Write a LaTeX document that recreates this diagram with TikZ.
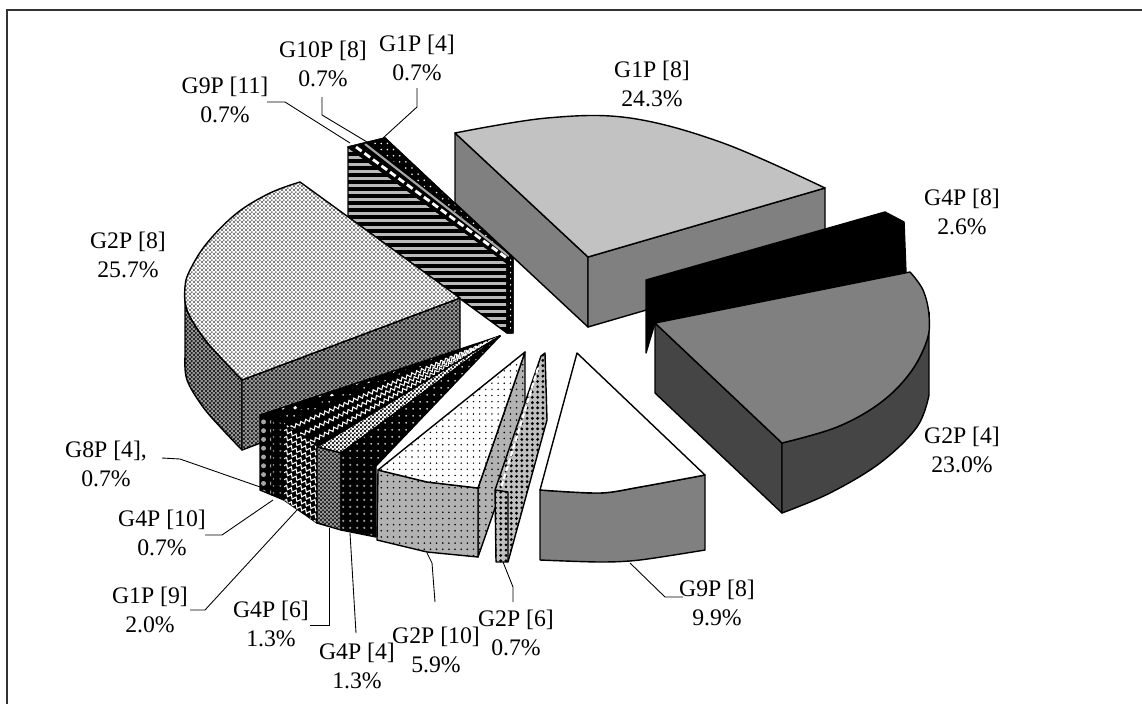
\documentclass[tikz,border=0pt]{standalone}
\usepackage{fontspec}
\setmainfont{Liberation Serif}
\usetikzlibrary{patterns,patterns.meta,decorations.pathmorphing,calc}
\definecolor{lg}{gray}{0.76}
\definecolor{mg}{gray}{0.50}
\definecolor{dg}{gray}{0.27}
\pgfdeclarepatternformonly{finecheck}{\pgfpointorigin}{\pgfpoint{2.2pt}{2.2pt}}{\pgfpoint{2.2pt}{2.2pt}}{%
  \pgfpathrectangle{\pgfpointorigin}{\pgfpoint{1.1pt}{1.1pt}}%
  \pgfpathrectangle{\pgfpoint{1.1pt}{1.1pt}}{\pgfpoint{1.1pt}{1.1pt}}%
  \pgfusepath{fill}}
\begin{document}
\begin{tikzpicture}[x=0.02cm,y=-0.02cm,
  edge/.style={draw=black, line width=0.8pt, line join=round},
  lbl/.style={align=center, font=\fontsize{13.5}{16.5}\selectfont, inner sep=0pt},
  lead/.style={draw=black, line width=0.5pt},
  zz/.style={draw=white, line width=0.6pt, decorate, decoration={zigzag, segment length=3pt, amplitude=1pt}},
]
\useasboundingbox (0,0) rectangle (1142,703);
% frame
\draw[line width=1.3pt, black!80] (7,720) -- (7,10) -- (1160,10);

% ---------- top thin slices (G9P[11], G10P[8], G1P[4]) ----------
\begin{scope}
  \clip (348,147) -- (507,263) -- (507,333) -- (348,217) -- cycle;
  \fill[gray!55] (340,130) rectangle (520,340);
  \foreach \yy in {131,138,...,340} \fill[black] (340,\yy) rectangle (520,\yy+4);
\end{scope}
\draw[edge] (348,147) -- (507,263) -- (507,333) -- (348,217) -- cycle;
\draw[edge, fill=black] (348,147) -- (385,138) -- (513,258) -- (513,333) -- (507,333) -- (507,263) -- cycle;
\path[pattern={Dots[distance=3.5pt,radius=0.5pt]}, pattern color=white] (370,142) -- (385,138) -- (513,258) -- (513,333) -- (510,333) -- (510,257) -- cycle;
\draw[white, line width=1.6pt, dash pattern=on 4pt off 2pt] (356,147) -- (508,259);
\draw[gray!70, line width=1.2pt] (365,144) -- (509,256);
\draw[edge] (348,147) -- (385,138) -- (513,258) -- (513,333) -- (507,333);

% ---------- G1P[8] ----------
\draw[edge, fill=mg] (455,133) -- (588,257) -- (588,327) -- (455,203) -- cycle;
\draw[edge, fill=mg] (588,257) -- (825,188) -- (825,258) -- (588,327) -- cycle;
\draw[edge, fill=lg] plot[smooth, tension=0.6] coordinates {(455,133) (547,118) (630,118) (723,143) (825,188)} -- (588,257) -- cycle;

% ---------- G4P[8] ----------
\draw[edge, fill=black] (646,280) -- (885,212) -- (904,222) -- (906,273) -- (655,323) -- (646,353) -- cycle;

% ---------- G2P[4] ----------
\draw[edge, fill=dg] (655,323) -- (782,443) -- (782,513) -- (655,393) -- cycle;
\draw[edge, fill=dg] plot[smooth, tension=0.6] coordinates {(929,312) (927,340) (910,373) (880,403) (837,427) (782,443)} -- (782,513)
  -- plot[smooth, tension=0.6] coordinates {(782,513) (830,493) (880,463) (917,427) (929,395)} -- cycle;
\draw[edge, fill=mg] (655,323) -- plot[smooth, tension=0.6] coordinates {(910,272) (923,290) (929,315) (927,340) (910,373) (880,403) (837,427) (782,443)} -- cycle;

% ---------- G9P[8] ----------
\draw[edge, fill=mg] plot[smooth, tension=0.5] coordinates {(540,490) (600,493) (640,487) (705,475)} -- (705,550)
  -- plot[smooth, tension=0.5] coordinates {(705,550) (640,560) (600,562) (540,560)} -- cycle;
\draw[edge, fill=white] (577,353) -- plot[smooth, tension=0.5] coordinates {(540,490) (600,493) (640,487) (705,475)} -- cycle;

% ---------- G2P[8] ----------
\draw[edge, preaction={fill=black!40}, pattern=finecheck, pattern color=black!85]
  plot[smooth, tension=0.6] coordinates {(185,287) (187,310) (203,337) (223,360) (242,380)} -- (242,450)
  -- plot[smooth, tension=0.6] coordinates {(242,450) (223,430) (203,407) (187,380) (185,357)} -- cycle;
\draw[edge, preaction={fill=black!40}, pattern=finecheck, pattern color=black!85]
  (242,380) -- (460,298) -- (460,368) -- (242,450) -- cycle;
\draw[edge, preaction={fill=white}, pattern=finecheck, pattern color=black!50]
  plot[smooth, tension=0.6] coordinates {(300,182) (270,193) (237,213) (207,243) (190,270) (185,287) (187,310) (203,337) (223,360) (242,380)} -- (460,298) -- cycle;

% ---------- small slices group ----------
\coordinate (A) at (500,336);
\coordinate (F0) at (260,415); \coordinate (B0) at (260,490);
\coordinate (F1) at (272,419); \coordinate (B1) at (272,495);
\coordinate (F2) at (284,423); \coordinate (B2) at (284,500);
\coordinate (F3) at (317,447); \coordinate (B3) at (317,523);
\coordinate (F4) at (341,453); \coordinate (B4) at (341,530);
\coordinate (F5) at (376,466); \coordinate (B5) at (376,537);
% G8P[4]
\draw[edge, preaction={fill=black}, pattern={Dots[distance=7pt,radius=1.1pt]}, pattern color=white] (F0) -- (F1) -- (A) -- cycle;
\draw[edge, preaction={fill=black}, pattern={Dots[distance=5pt,radius=1.4pt]}, pattern color=gray!70] (F0) -- (F1) -- (B1) -- (B0) -- cycle;
% G4P[10]
\draw[edge, preaction={fill=black}, pattern={Dots[distance=4pt,radius=0.6pt]}, pattern color=white] (F1) -- (F2) -- (A) -- cycle;
\draw[edge, preaction={fill=black}, pattern={Dots[distance=4pt,radius=0.7pt]}, pattern color=gray] (F1) -- (F2) -- (B2) -- (B1) -- cycle;
% G1P[9] zigzag
\draw[edge, fill=black] (F2) -- (F3) -- (A) -- cycle;
\begin{scope}
  \clip (F2) -- (F3) -- (A) -- cycle;
  \foreach \t in {0.2,0.5,0.8} \draw[zz] ($(F2)!\t!(F3)$) -- (A);
\end{scope}
\draw[edge, fill=black] (F2) -- (F3) -- (B3) -- (B2) -- cycle;
\begin{scope}
  \clip (F2) -- (F3) -- (B3) -- (B2) -- cycle;
  \foreach \d in {-20,-13,...,100} \draw[zz] (280,420+\d) -- (320,440+\d);
\end{scope}
% G4P[6]
\draw[edge, preaction={fill=white}, pattern=finecheck, pattern color=black!85] (F3) -- (F4) -- (A) -- cycle;
\draw[edge, preaction={fill=black!40}, pattern=finecheck, pattern color=black!85] (F3) -- (F4) -- (B4) -- (B3) -- cycle;
% G4P[4]
\draw[edge, preaction={fill=black}, pattern={Dots[distance=4pt,radius=0.6pt]}, pattern color=white] (F4) -- (F5) -- (A) -- cycle;
\draw[edge, preaction={fill=black}, pattern={Dots[distance=4pt,radius=0.8pt]}, pattern color=gray!80] (F4) -- (F5) -- (B5) -- (B4) -- cycle;

% ---------- G2P[10] ----------
\draw[edge, preaction={fill=gray!60}, pattern={Dots[distance=3.5pt,radius=0.5pt]}, pattern color=black] (525,352) -- (478,488) -- (478,557) -- (525,422) -- cycle;
\draw[edge, preaction={fill=gray!60}, pattern={Dots[distance=3.5pt,radius=0.5pt]}, pattern color=black]
  (378,470) -- (427,482) -- (478,488) -- (478,557) -- (427,552) -- (377,540) -- cycle;
\draw[edge, preaction={fill=white}, pattern={Dots[distance=3.5pt,radius=0.45pt]}, pattern color=black]
  (525,352) -- (378,470) -- (427,482) -- (478,488) -- cycle;

% ---------- G2P[6] ----------
\draw[edge, preaction={fill=gray!50}, pattern={Dots[distance=3pt,radius=0.9pt]}, pattern color=black] (541,356) -- (545,353) -- (547,420) -- (508,562) -- (496,562) -- (495,490) -- cycle;
\draw[white, line width=1.2pt, dash pattern=on 3pt off 1.5pt] (538,368) -- (501,488);
\draw[edge] (495,490) -- (508,492) -- (508,562);

% ---------- labels ----------
\node[lbl] (l1) at (652,84) {G1P [8]\\24.3\%};
\node[lbl] (l2) at (962,212) {G4P [8]\\2.6\%};
\node[lbl] (l3) at (962,450) {G2P [4]\\23.0\%};
\node[lbl] (l4) at (717,603) {G9P [8]\\9.9\%};
\node[lbl] (l5) at (516,633) {G2P [6]\\0.7\%};
\node[lbl] (l6) at (436,650) {G2P [10]\\5.9\%};
\node[lbl] (l7) at (357,666) {G4P [4]\\1.3\%};
\node[lbl] (l8) at (271,624) {G4P [6]\\1.3\%};
\node[lbl] (l9) at (150,610) {G1P [9]\\2.0\%};
\node[lbl] (l10) at (162,533) {G4P [10]\\0.7\%};
\node[lbl] (l11) at (106,464) {G8P [4],\\0.7\%};
\node[lbl] (l12) at (128,255) {G2P [8]\\25.7\%};
\node[lbl] (l13) at (225,100) {G9P [11]\\0.7\%};
\node[lbl] (l14) at (323,64) {G10P [8]\\0.7\%};
\node[lbl] (l15) at (417,58) {G1P [4]\\0.7\%};

% ---------- leader lines ----------
\coordinate (e11) at (263,488);
\draw[lead] (162,458) -- (180,459) -- (e11);
\coordinate (e10) at (273,500);
\draw[lead] (205,535) -- (222,535) -- (e10);
\coordinate (e9) at (297,510);
\draw[lead] (190,610) -- (205,610) -- (e9);
\coordinate (e8) at (329,528);
\draw[lead] (310,625) -- (329,625) -- (e8);
\coordinate (e7) at (350,533);
\draw[lead] (356,633) -- (e7);
\coordinate (e6) at (427,553);
\draw[lead] (435,602) -- (432,563) -- (e6);
\coordinate (e5) at (503,562);
\draw[lead] (513,602) -- (513,587) -- (e5);
\coordinate (e4) at (630,563);
\draw[lead] (683,597) -- (665,597) -- (e4);
\coordinate (e13) at (350,143);
\draw[lead] (267,102) -- (285,102) -- (e13);
\coordinate (e14) at (367,142);
\draw[lead] (322,97) -- (322,115) -- (e14);
\coordinate (e15) at (383,138);
\draw[lead] (417,88) -- (417,107) -- (e15);
\end{tikzpicture}
\end{document}
